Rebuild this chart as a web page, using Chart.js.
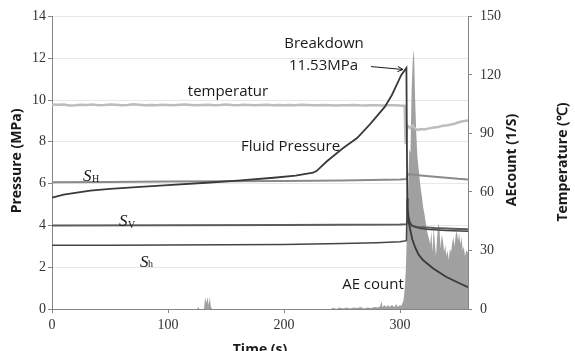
<!DOCTYPE html>
<html><head><meta charset="utf-8">
<script src="https://cdn.jsdelivr.net/npm/chart.js@4.4.1/dist/chart.umd.min.js"></script>
<style>html,body{margin:0;padding:0;background:#fff;}#wrap{width:575px;height:351px;}</style>
</head><body><div id="wrap"><canvas id="c" width="575" height="351"></canvas></div>
<script>
// ---- tick labels ----
const xTicks = [0, 100, 200, 300];
const pTicks = [0, 2, 4, 6, 8, 10, 12, 14];
const aeTicks = [0, 30, 60, 90, 120, 150];

// ---- Fluid pressure (MPa) ----
const fluidTime = [0,10,20,33,50,76,100,133,160,191,210,225,228,237,251,263,274,281,287,293,297,301,305.5,306.3,307.3,308.6,310.5,313,316,320,328.6,340,351.7,358.6];
const fluidP    = [5.33,5.47,5.56,5.66,5.75,5.84,5.93,6.04,6.14,6.28,6.38,6.52,6.6,7.07,7.7,8.18,8.83,9.29,9.68,10.24,10.71,11.19,11.53,4.8,4.2,3.85,3.35,2.96,2.6,2.33,1.94,1.53,1.22,1.04];

// ---- S_H (MPa) ----
const sHTime = [0,50,100,150,200,250,300,305.3,306,307,310,320,330,340,350,358.6];
const sHP    = [6.07,6.08,6.1,6.11,6.12,6.15,6.2,6.22,6.4,6.45,6.44,6.38,6.33,6.28,6.23,6.2];

// ---- S_V (MPa) ----
const sVTime = [0,100,200,250,300,305.5,306.2,307,308,310,315,330,345,358.6];
const sVP    = [4.0,4.01,4.02,4.03,4.04,4.06,4.15,4.25,4.1,3.98,3.92,3.87,3.84,3.82];

// ---- S_h (MPa) ----
const sh2Time = [0,50,100,150,200,250,280,300,305.5,306.2,306.8,307.5,308.5,310,313,318,325,340,358.6];
const sh2P    = [3.05,3.05,3.06,3.07,3.09,3.13,3.17,3.22,3.27,5.3,4.8,4.4,4.15,4.02,3.92,3.85,3.8,3.76,3.72];

// ---- Temperature (°C) ----
const tempTime = [0,5,10,15,20,25,30,35,40,45,50,55,60,65,70,75,80,85,90,95,100,105,110,115,120,125,130,135,140,145,150,155,160,165,170,175,180,185,190,195,200,205,210,215,220,225,230,235,240,245,250,255,260,265,270,275,280,285,290,295,300,302,304,304.8,305.6,306.5,307.5,309,311,313,315,318,321,325,329,333,337,341,346,350,354,358.6];
const tempC    = [104.9,104.7,104.8,104.3,104.4,104.7,104.6,104.8,104.5,104.6,104.8,104.7,104.5,104.6,104.9,104.7,104.5,104.6,104.4,104.7,104.6,104.5,104.7,104.8,104.6,104.4,104.6,104.7,104.5,104.6,104.8,104.6,104.5,104.7,104.6,104.4,104.6,104.7,104.5,104.6,104.4,104.6,104.5,104.7,104.6,104.5,104.4,104.6,104.5,104.3,104.5,104.4,104.6,104.4,104.3,104.5,104.4,104.3,104.4,104.5,104.3,104.2,104.2,84.5,90,94,93.5,92.8,94.2,92.4,91.8,92.3,92.0,92.6,93.0,93.3,94.0,94.2,94.8,95.6,96.2,96.6];

// ---- AE count (1/s) ----
const aeTime  = [0,125,126,127,131,132,133,134,135,136,137,138,240,243,245,248,251,254,257,260,263,266,269,272,275,278,281,283,284,285,287,288,290,291,293,295,297,298,300,301,302,303,304,305,306,307,308,309,310,311,312,313,314,315,316,317,318,319,320,321,322,323,324,325,326,327,328,329,330,331,332,333,334,335,336,337,338,339,340,341,342,343,344,345,346,347,348,349,350,351,352,353,354,355,356,357,358.6];
const aeCount = [0,0,1,0,0,6,3,6,2,6,1,0,0,0.6,0,0.8,0.3,0.8,0.3,0.8,0.5,1,0.3,0.8,0.5,1,0.8,1.5,4,1,2,1,2,1,2,1,2.5,1,2,1.5,3,4.5,10,20,40,62,82,80,112,128,133,108,90,78,72,66,61,57,52,49,45,41,38,36,33,40,29,42,34,27,37,44,41,31,38,35,29,33,27,30,25,31,29,34,37,32,38,40,35,39,33,37,30,32,27,30,29];

function pts(xs, ys){ return xs.map((x,i)=>({x:x, y:ys[i]})); }

const notes = [
  {text:'Breakdown', t:234.5, p:12.67},
  {text:'11.53MPa', t:234.1, p:11.66},
  {text:'temperatur', t:151.7, p:10.39},
  {text:'Fluid Pressure', t:205.6, p:7.74},
  {text:'AE count', t:276.7, p:1.14}
];
const stressLabels = [
  {sub:'H', t:26.7, p:6.12, dx:9, dy:1},
  {sub:'V', t:57.8, p:3.99, dx:9, dy:2},
  {sub:'h', t:75.9, p:1.99, dx:8, dy:0}
];

const textPlugin = {
  id:'texts',
  afterDatasetsDraw(chart){
    const ctx = chart.ctx, x = chart.scales.x, y = chart.scales.yP;
    const X = v => x.getPixelForValue(v), Y = v => y.getPixelForValue(v);
    ctx.save();
    ctx.fillStyle = '#1a1a1a';
    ctx.textAlign = 'center'; ctx.textBaseline = 'middle';
    ctx.font = '15px "Open Sans"';
    notes.forEach(n => ctx.fillText(n.text, X(n.t), Y(n.p)));
    // arrow
    const x1 = X(275), y1 = Y(11.6), x2 = X(302.6), y2 = Y(11.46);
    ctx.strokeStyle = '#1a1a1a'; ctx.lineWidth = 1;
    ctx.beginPath(); ctx.moveTo(x1,y1); ctx.lineTo(x2,y2); ctx.stroke();
    const a = Math.atan2(y2-y1, x2-x1), L = 6;
    ctx.beginPath();
    ctx.moveTo(x2 - L*Math.cos(a-0.45), y2 - L*Math.sin(a-0.45));
    ctx.lineTo(x2, y2);
    ctx.lineTo(x2 - L*Math.cos(a+0.45), y2 - L*Math.sin(a+0.45));
    ctx.stroke();
    // stress labels
    ctx.textAlign = 'left'; ctx.textBaseline = 'alphabetic';
    stressLabels.forEach(s => {
      ctx.font = 'italic 17px "Liberation Serif"';
      ctx.fillText('S', X(s.t), Y(s.p));
      ctx.font = '10px "Liberation Serif"';
      ctx.fillText(s.sub, X(s.t)+s.dx, Y(s.p)+s.dy);
    });
    // axis titles
    ctx.font = 'bold 14px "Open Sans"';
    ctx.textAlign = 'center'; ctx.textBaseline = 'middle';
    const rot = (t, cx, cy) => { ctx.save(); ctx.translate(cx, cy); ctx.rotate(-Math.PI/2); ctx.fillText(t, 0, 0); ctx.restore(); };
    rot('Pressure (MPa)', 17, 161);
    rot('AEcount (1/S)', 512, 160);
    rot('Temperature (\u2103)', 563, 162);
    ctx.fillText('Time (s)', 260, 350);
    ctx.restore();
  }
};

const axisGray = '#868686';
const tickFont = {family:'Liberation Serif', size:14};

new Chart(document.getElementById('c'), {
  type:'line',
  data:{datasets:[
    {label:'temperature', data:pts(tempTime,tempC), yAxisID:'yT', borderColor:'#bdbdbd', borderWidth:2.5, pointRadius:0, tension:0, order:5},
    {label:'S_H', data:pts(sHTime,sHP), yAxisID:'yP', borderColor:'#8a8a8a', borderWidth:2, pointRadius:0, tension:0, order:4},
    {label:'S_V', data:pts(sVTime,sVP), yAxisID:'yP', borderColor:'#5c5c5c', borderWidth:2, pointRadius:0, tension:0, order:3},
    {label:'S_h', data:pts(sh2Time,sh2P), yAxisID:'yP', borderColor:'#454545', borderWidth:1.5, pointRadius:0, tension:0, order:2},
    {label:'Fluid Pressure', data:pts(fluidTime,fluidP), yAxisID:'yP', borderColor:'#3a3a3a', borderWidth:1.8, pointRadius:0, tension:0, order:1},
    {label:'AE count', data:pts(aeTime,aeCount), yAxisID:'yAE', borderWidth:0, borderColor:'rgba(0,0,0,0)', backgroundColor:'#a0a0a0', fill:'origin', pointRadius:0, tension:0, order:10}
  ]},
  options:{
    responsive:false, animation:false, devicePixelRatio:1,
    layout:{padding:{top:14, left:0, right:0, bottom:0}},
    plugins:{legend:{display:false}, tooltip:{enabled:false}},
    scales:{
      x:{type:'linear', position:'bottom', min:0, max:358.6,
         afterFit(s){ s.height = 42; },
         afterBuildTicks(s){ s.ticks = xTicks.map(v=>({value:v})); },
         grid:{drawOnChartArea:false, tickLength:4, color:axisGray},
         border:{color:axisGray, width:1},
         ticks:{font:tickFont, color:'#333', padding:4, maxRotation:0}},
      yP:{type:'linear', position:'left', min:0, max:14,
         afterFit(s){ s.width = 52; },
         afterBuildTicks(s){ s.ticks = pTicks.map(v=>({value:v})); },
         grid:{color:'#e8e8e8', tickColor:axisGray, tickLength:4},
         border:{color:axisGray, width:1},
         ticks:{font:tickFont, color:'#333', padding:2}},
      yAE:{type:'linear', position:'right', min:0, max:150,
         afterFit(s){ s.width = 107; },
         afterBuildTicks(s){ s.ticks = aeTicks.map(v=>({value:v})); },
         grid:{drawOnChartArea:false, tickLength:4, color:axisGray},
         border:{color:axisGray, width:1},
         ticks:{font:tickFont, color:'#333', padding:8}},
      yT:{type:'linear', position:'right', display:false, min:0, max:150}
    }
  },
  plugins:[textPlugin]
});
</script>
</body></html>
